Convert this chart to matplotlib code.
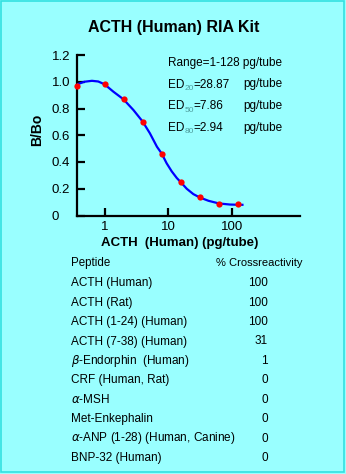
import matplotlib
matplotlib.use('Agg')
import matplotlib.pyplot as plt
from matplotlib.patches import Rectangle
from matplotlib.ticker import FixedLocator, NullLocator

plt.rcParams['font.family'] = ['Liberation Sans', 'DejaVu Sans']
plt.rcParams['mathtext.fontset'] = 'dejavusans'

W, H = 346, 474

# standard curve (red dots)
conc = [0.36, 1, 2, 4, 8, 16, 32, 64, 128]
bbo = [0.97, 0.98, 0.87, 0.70, 0.46, 0.25, 0.14, 0.085, 0.085]

# fitted curve
fit_x = [0.36, 0.47, 0.62, 0.78, 0.98, 1.35, 1.95, 2.8, 3.9, 5.1, 6.6, 7.8,
         9.4, 11.3, 13.6, 16, 19.5, 24.8, 31.3, 43, 63, 94, 129, 148]
fit_y = [0.98, 1.0, 1.007, 1.002, 0.981, 0.926, 0.869, 0.789, 0.704, 0.615,
         0.514, 0.465, 0.39, 0.33, 0.28, 0.245, 0.2, 0.16, 0.135, 0.11,
         0.09, 0.082, 0.08, 0.08]

x_ticks = [1, 10, 100]
x_labels = ['1', '10', '100']
y_ticks = [0, 0.2, 0.4, 0.6, 0.8, 1.0, 1.2]
y_labels = ['0', '0.2', '0.4', '0.6', '0.8', '1.0', '1.2']

range_text = 'Range=1-128 pg/tube'
ed_subs = ['20', '50', '80']
ed_vals = ['28.87', '7.86', '2.94']

peptides = ['ACTH (Human)', 'ACTH (Rat)', 'ACTH (1-24) (Human)',
            'ACTH (7-38) (Human)', r'$\beta$-Endorphin  (Human)',
            'CRF (Human, Rat)', r'$\alpha$-MSH', 'Met-Enkephalin',
            r'$\alpha$-ANP (1-28) (Human, Canine)', 'BNP-32 (Human)']
crossreact = [100, 100, 100, 31, 1, 0, 0, 0, 0, 0]

bg = '#99FFFF'


def px(x, y):
    return x / W, 1 - y / H


fig = plt.figure(figsize=(W / 100, H / 100), dpi=100, facecolor=bg)
fig.patches.append(Rectangle((1 / W, 2 / H), 343 / W, 471 / H, transform=fig.transFigure,
                             fill=False, edgecolor='#33E0E0', lw=1.2))

ax = fig.add_axes([77 / W, 1 - 215.5 / H, (299.5 - 77) / W, (215.5 - 55) / H])
ax.set_facecolor('none')
ax.set_xscale('log')
ax.plot(fit_x, fit_y, color='#0000FF', lw=1.6, zorder=3)
ax.plot(conc, bbo, 'o', color='#FF0000', ms=4.5, mec='none', zorder=4, clip_on=False)
ax.set_xlim(0.36, 1180)
ax.set_ylim(0, 1.2)

for s in ['top', 'right']:
    ax.spines[s].set_visible(False)
for s in ['left', 'bottom']:
    ax.spines[s].set_linewidth(1.6)

ax.xaxis.set_major_locator(FixedLocator(x_ticks))
ax.xaxis.set_minor_locator(NullLocator())
ax.set_xticklabels(x_labels)
ax.yaxis.set_major_locator(FixedLocator(y_ticks))
ax.set_yticklabels(y_labels, ha='left')
ax.tick_params(direction='in', length=5.5, width=1.6, labelsize=9.5)
ax.tick_params(axis='x', pad=4)
ax.tick_params(axis='y', pad=18)

fig.text(*px(173.3, 27.5), 'ACTH (Human) RIA Kit', fontsize=11.5, fontweight='bold',
         ha='center', va='center')
fig.text(*px(180, 243), 'ACTH  (Human) (pg/tube)', fontsize=9.5, fontweight='bold',
         ha='center', va='center')
fig.text(*px(37.5, 130), 'B/Bo', fontsize=10, fontweight='bold', rotation=90,
         ha='center', va='center')

# annotation block
fig.text(*px(168, 66), range_text, fontsize=8.5, va='baseline')
fig.canvas.draw()
r = fig.canvas.get_renderer()
for i, (sub, val) in enumerate(zip(ed_subs, ed_vals)):
    base = 87.5 + i * 21.6
    t1 = fig.text(*px(168, base), 'ED', fontsize=8.5, va='baseline')
    b1 = t1.get_window_extent(r)
    t2 = fig.text(b1.x1 / W, 1 - (base + 2.5) / H, sub, fontsize=6, color='#4E9C9C',
                  va='baseline')
    b2 = t2.get_window_extent(r)
    fig.text(b2.x1 / W, 1 - base / H, '=' + val, fontsize=8.5, va='baseline')
    fig.text(*px(243, base), 'pg/tube', fontsize=8.5, va='baseline')

# crossreactivity table
fig.text(*px(70.7, 263.3), 'Peptide', fontsize=8.3, va='center')
fig.text(*px(259.5, 263.3), '% Crossreactivity', fontsize=8, va='center', ha='center')
for i, (name, val) in enumerate(zip(peptides, crossreact)):
    y = 283.3 + i * 19.4
    fig.text(*px(70.7, y), name, fontsize=8.5, va='center')
    fig.text(*px(268, y), str(val), fontsize=8.5, va='center', ha='right')

fig.savefig('out.png', dpi=100, facecolor=bg)
